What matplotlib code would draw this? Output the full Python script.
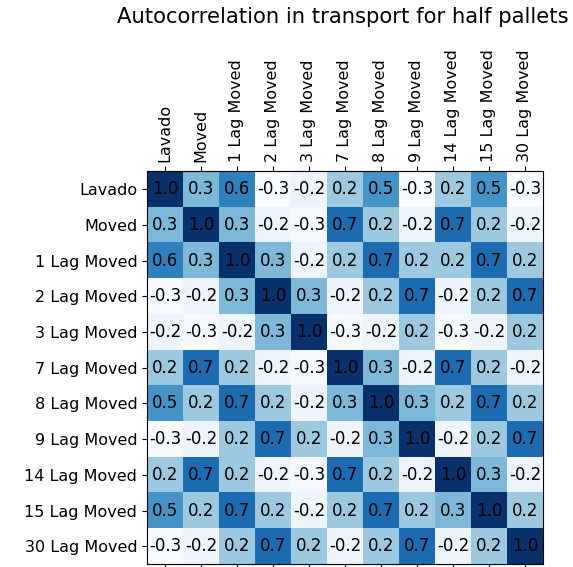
import matplotlib
matplotlib.use("Agg")
import matplotlib.pyplot as plt
import numpy as np

labels = ["Lavado", "Moved", "1 Lag Moved", "2 Lag Moved", "3 Lag Moved",
          "7 Lag Moved", "8 Lag Moved", "9 Lag Moved", "14 Lag Moved",
          "15 Lag Moved", "30 Lag Moved"]

# correlation matrix (rows in label order)
corr = np.array([
    [1.00, 0.30, 0.60, -0.28, -0.22, 0.20, 0.50, -0.28, 0.20, 0.50, -0.28],
    [0.30, 1.00, 0.30, -0.22, -0.27, 0.70, 0.20, -0.22, 0.70, 0.20, -0.22],
    [0.60, 0.30, 1.00, 0.30, -0.22, 0.20, 0.70, 0.20, 0.20, 0.70, 0.20],
    [-0.28, -0.22, 0.30, 1.00, 0.30, -0.22, 0.20, 0.70, -0.22, 0.20, 0.70],
    [-0.22, -0.27, -0.22, 0.30, 1.00, -0.27, -0.22, 0.20, -0.27, -0.22, 0.20],
    [0.20, 0.70, 0.20, -0.22, -0.27, 1.00, 0.30, -0.22, 0.70, 0.20, -0.22],
    [0.50, 0.20, 0.70, 0.20, -0.22, 0.30, 1.00, 0.30, 0.20, 0.70, 0.20],
    [-0.28, -0.22, 0.20, 0.70, 0.20, -0.22, 0.30, 1.00, -0.22, 0.20, 0.70],
    [0.20, 0.70, 0.20, -0.22, -0.27, 0.70, 0.20, -0.22, 1.00, 0.30, -0.22],
    [0.50, 0.20, 0.70, 0.20, -0.22, 0.20, 0.70, 0.20, 0.30, 1.00, 0.20],
    [-0.28, -0.22, 0.20, 0.70, 0.20, -0.22, 0.20, 0.70, -0.22, 0.20, 1.00],
])

fig = plt.figure(figsize=(5.73, 5.67), dpi=100)
ax = fig.add_axes([0.2565, 0.005, 0.691, 0.693])
ax.matshow(corr, cmap="Blues", aspect="auto")

n = len(labels)
ax.set_xticks(np.arange(n))
ax.set_yticks(np.arange(n))
ax.set_xticklabels(labels, rotation=90, fontsize=11.5)
ax.set_yticklabels(labels, fontsize=11.5)

for i in range(n):
    for j in range(n):
        ax.text(j, i, "%.1f" % corr[i, j], ha="center", va="center",
                fontsize=12, color="black")

fig.suptitle("Autocorrelation in transport for half pallets", fontsize=15.2,
             x=0.599, y=0.988)

fig.savefig("out.png", dpi=100)
